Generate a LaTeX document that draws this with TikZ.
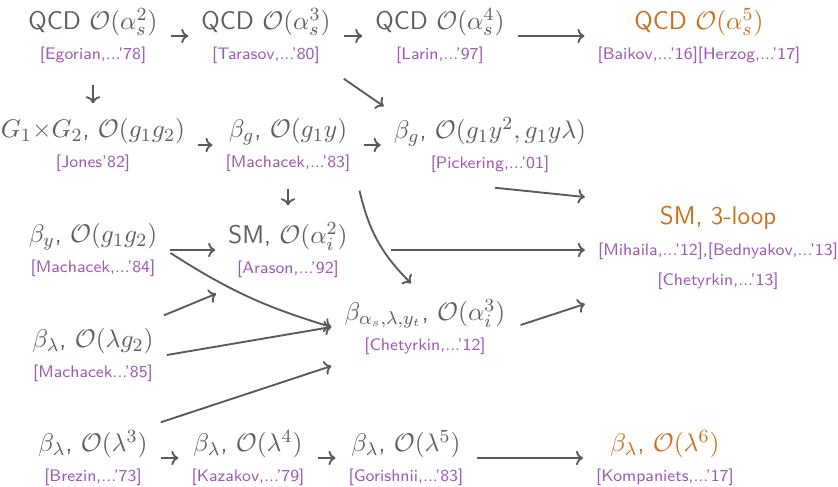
\documentclass[tikz,border=0pt]{standalone}
\usepackage{tikz}
\usepackage{xcolor}
\usetikzlibrary{arrows.meta,positioning,calc}
\definecolor{ink}{HTML}{5F5F5F}
\definecolor{wire}{HTML}{5A5A5A}
\definecolor{citeviolet}{HTML}{9E5AB4}
\definecolor{neworange}{HTML}{CF6E1E}
\newcommand{\paperref}[1]{{\fontsize{7.2}{9}\selectfont\color{citeviolet}#1}}
\tikzset{
  entry/.style={
    align=center,
    inner xsep=5.5pt,
    inner ysep=1pt,
    font=\sffamily\fontsize{11}{13.1}\selectfont,
    text=ink
  },
  newentry/.style={entry, text=neworange},
  linkarrow/.style={-{To[length=3pt,width=6.2pt]}, line width=0.8pt, draw=wire}
}

\begin{document}
\begin{tikzpicture}[x=0.43pt,y=-0.43pt]
      \useasboundingbox (0,0) rectangle (838,486);
      % QCD chain
      \node[entry] (q2) at (93,36) {QCD $\mathcal{O}(\alpha_s^2)$\\\paperref{[Egorian,...'78]}};
      \node[entry] (q3) at (266,36) {QCD $\mathcal{O}(\alpha_s^3)$\\\paperref{[Tarasov,...'80]}};
      \node[entry] (q4) at (440,36) {QCD $\mathcal{O}(\alpha_s^4)$\\\paperref{[Larin,...'97]}};
      \node[newentry] (q5) at (699,36) {QCD $\mathcal{O}(\alpha_s^5)$\\\paperref{[Baikov,...'16][Herzog,...'17]}};
      % gauge and Yukawa
      \node[entry] (g12) at (93,145) {$G_1$×$G_2$, $\mathcal{O}(g_1g_2)$\\\paperref{[Jones'82]}};
      \node[entry] (gy) at (288,145) {$\beta_g$, $\mathcal{O}(g_1y)$\\\paperref{[Machacek,...'83]}};
      \node[entry] (pick) at (490,145) {$\beta_g$, $\mathcal{O}(g_1y^2,g_1y\lambda)$\\\paperref{[Pickering,...'01]}};
      \node[entry] (by) at (93,250) {$\beta_y$, $\mathcal{O}(g_1g_2)$\\\paperref{[Machacek,...'84]}};
      \node[entry] (sm2) at (288,250) {SM, $\mathcal{O}(\alpha_i^2)$\\\paperref{[Arason,...'92]}};
      \node[newentry] (sm3) at (718,248) {SM, 3-loop\\\paperref{[Mihaila,...'12]}{\color{ink}\fontsize{7.2}{9}\selectfont,}\paperref{[Bednyakov,...'13]}\\\paperref{[Chetyrkin,...'13]}};
      \node[entry] (chet) at (425,327) {$\beta_{\alpha_s,\lambda,y_t}$, $\mathcal{O}(\alpha_i^3)$\\\paperref{[Chetyrkin,...'12]}};
      \node[entry] (lg2) at (93,355) {$\beta_\lambda$, $\mathcal{O}(\lambda g_2)$\\\paperref{[Machacek...'85]}};
      % quartic chain
      \node[entry] (l3) at (93,458) {$\beta_\lambda$, $\mathcal{O}(\lambda^3)$\\\paperref{[Brezin,...'73]}};
      \node[entry] (l4) at (248,458) {$\beta_\lambda$, $\mathcal{O}(\lambda^4)$\\\paperref{[Kazakov,...'79]}};
      \node[entry] (l5) at (406,458) {$\beta_\lambda$, $\mathcal{O}(\lambda^5)$\\\paperref{[Gorishnii,...'83]}};
      \node[newentry] (l6) at (665,458) {$\beta_\lambda$, $\mathcal{O}(\lambda^6)$\\\paperref{[Kompaniets,...'17]}};

      \draw[linkarrow] (q2) -- (q3);
      \draw[linkarrow] (q3) -- (q4);
      \draw[linkarrow] (q4) -- (q5);
      \draw[linkarrow, shorten <=7.7pt, shorten >=5.2pt] (q2) -- (g12);
      \draw[linkarrow] ($(q3.south east)+(0,12)$) -- ($(pick.north west)+(3,-8)$);
      \draw[linkarrow] (g12) -- (gy);
      \draw[linkarrow] (gy) -- (pick);
      \draw[linkarrow, shorten <=6pt, shorten >=6pt] (gy) -- (sm2);
      \draw[linkarrow] ($(pick.south)+(5,12)$) -- ($(sm3.west)+(0,-51)$);
      \draw[linkarrow] ($(gy.south east)+(-4,16)$) to[bend right=16] ($(chet.north)+(-14,-13)$);
      \draw[linkarrow] (by) -- (sm2);
      \draw[linkarrow] ($(sm2.east)+(30,0)$) -- (sm3.west |- sm2.east);
      \draw[linkarrow] ($(by.east)+(0,3)$) to[bend right=8] ($(chet.west)+(0,0)$);
      \draw[linkarrow] ($(lg2.north east)+(-3,-10)$) -- ($(sm2.south west)+(1,13)$);
      \draw[linkarrow] (lg2.east) -- ($(chet.west)+(0,0)$);
      \draw[linkarrow] ($(l3.north east)+(0,-5)$) -- ($(chet.west)+(0,39)$);
      \draw[linkarrow] ($(chet.east)+(2,-2)$) -- ($(sm3.west)+(0,56)$);
      \draw[linkarrow] (l3) -- (l4);
      \draw[linkarrow] (l4) -- (l5);
      \draw[linkarrow] (l5) -- (l6);
    \end{tikzpicture}
\end{document}
